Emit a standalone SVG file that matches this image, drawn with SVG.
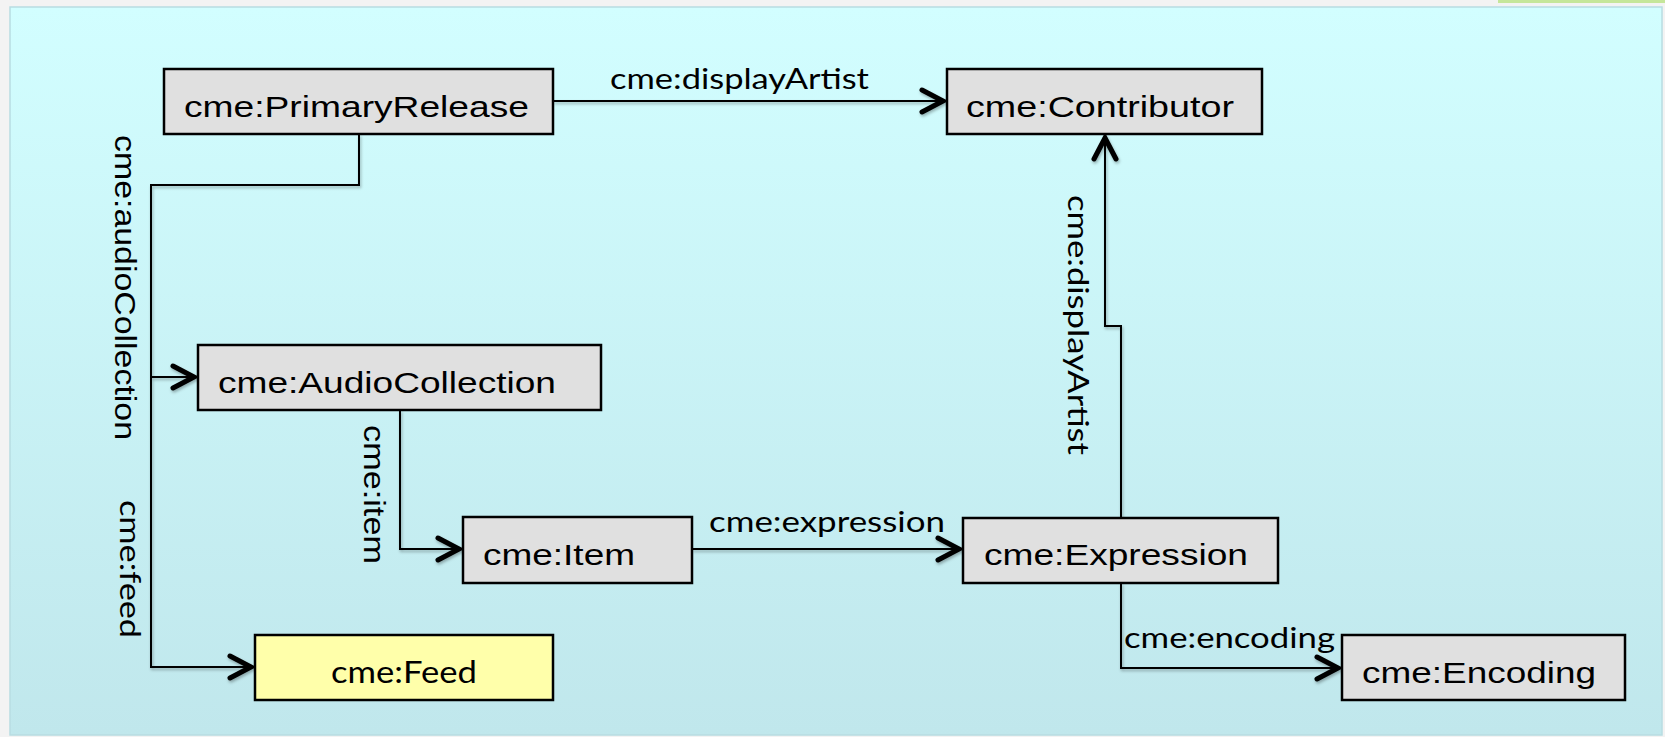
<svg xmlns="http://www.w3.org/2000/svg" width="1665" height="737" viewBox="0 0 1665 737">
<defs>
<linearGradient id="bg" x1="0" y1="0" x2="0" y2="1">
<stop offset="0" stop-color="#d2feff"/>
<stop offset="1" stop-color="#c0e7ec"/>
</linearGradient>
<filter id="sh" x="-5%" y="-5%" width="110%" height="110%">
<feDropShadow dx="1" dy="2" stdDeviation="1.5" flood-color="#000" flood-opacity="0.3"/>
</filter>
<marker id="arr" markerUnits="userSpaceOnUse" markerWidth="40" markerHeight="40" refX="0" refY="0" orient="auto" overflow="visible">
<path d="M -25 -11 L -4 0 L -25 11" fill="none" stroke="#000" stroke-width="5" stroke-linecap="round" stroke-linejoin="miter"/>
</marker>
<style>
.box{fill:#e0e0e0;stroke:#000;stroke-width:2.5}
.feed{fill:#ffffaa;stroke:#000;stroke-width:2.5}
.nt{font-family:"Liberation Sans",Arial,sans-serif;font-size:30px;fill:#000}
.ft{font-family:Lato,"Open Sans",sans-serif;font-size:31px;fill:#000}
.el{font-family:Lato,"Open Sans",sans-serif;font-size:29px;fill:#000}
.ela{font-family:"Liberation Sans",Arial,sans-serif;font-size:30px;fill:#000}
.c{fill:none;stroke:#000;stroke-width:2}
</style>
</defs>
<rect x="0" y="0" width="1665" height="737" fill="#f3f3f3"/>
<rect x="1498" y="0" width="167" height="3" fill="#c5e69a"/>
<rect x="10" y="7" width="1652" height="728" fill="url(#bg)" stroke="#b8dde2" stroke-width="1.5"/>

<g id="connectors" filter="url(#sh)">
<path class="c" d="M 553 101 L 947 101" marker-end="url(#arr)"/>
<path class="c" d="M 359 134 L 359 185 L 151 185 L 151 377 L 198 377" marker-end="url(#arr)"/>
<path class="c" d="M 151 377 L 151 667 L 255 667" marker-end="url(#arr)"/>
<path class="c" d="M 400 410 L 400 549 L 463 549" marker-end="url(#arr)"/>
<path class="c" d="M 692 549 L 963 549" marker-end="url(#arr)"/>
<path class="c" d="M 1121 518 L 1121 326 L 1105 326 L 1105 134" marker-end="url(#arr)"/>
<path class="c" d="M 1121 583 L 1121 668 L 1342 668" marker-end="url(#arr)"/>
</g>

<g id="edge-labels">
<text class="el" x="610" y="89" textLength="259" lengthAdjust="spacingAndGlyphs">cme:displayArtist</text>
<text class="el" x="709" y="532" textLength="236" lengthAdjust="spacingAndGlyphs">cme:expression</text>
<text class="el" x="1124" y="648" textLength="211" lengthAdjust="spacingAndGlyphs">cme:encoding</text>
<text class="ela" transform="translate(115,135) rotate(90)" textLength="305" lengthAdjust="spacingAndGlyphs">cme:audioCollection</text>
<text class="ela" transform="translate(364,425) rotate(90)" textLength="139" lengthAdjust="spacingAndGlyphs">cme:item</text>
<text class="el" transform="translate(1068,195) rotate(90)" textLength="260" lengthAdjust="spacingAndGlyphs">cme:displayArtist</text>
<text class="el" transform="translate(120,500) rotate(90)" textLength="138" lengthAdjust="spacingAndGlyphs">cme:feed</text>
</g>

<g id="node-primaryrelease">
<rect class="box" x="164" y="69" width="389" height="65"/>
<text class="nt" x="184" y="117" textLength="345" lengthAdjust="spacingAndGlyphs">cme:PrimaryRelease</text>
</g>
<g id="node-contributor">
<rect class="box" x="947" y="69" width="315" height="65"/>
<text class="nt" x="966" y="117" textLength="268" lengthAdjust="spacingAndGlyphs">cme:Contributor</text>
</g>
<g id="node-audiocollection">
<rect class="box" x="198" y="345" width="403" height="65"/>
<text class="nt" x="218" y="393" textLength="338" lengthAdjust="spacingAndGlyphs">cme:AudioCollection</text>
</g>
<g id="node-item">
<rect class="box" x="463" y="517" width="229" height="66"/>
<text class="nt" x="483" y="565" textLength="152" lengthAdjust="spacingAndGlyphs">cme:Item</text>
</g>
<g id="node-expression">
<rect class="box" x="963" y="518" width="315" height="65"/>
<text class="nt" x="984" y="565" textLength="264" lengthAdjust="spacingAndGlyphs">cme:Expression</text>
</g>
<g id="node-feed">
<rect class="feed" x="255" y="635" width="298" height="65"/>
<text class="ft" x="331" y="683" textLength="146" lengthAdjust="spacingAndGlyphs">cme:Feed</text>
</g>
<g id="node-encoding">
<rect class="box" x="1342" y="635" width="283" height="65"/>
<text class="nt" x="1362" y="683" textLength="234" lengthAdjust="spacingAndGlyphs">cme:Encoding</text>
</g>
</svg>
